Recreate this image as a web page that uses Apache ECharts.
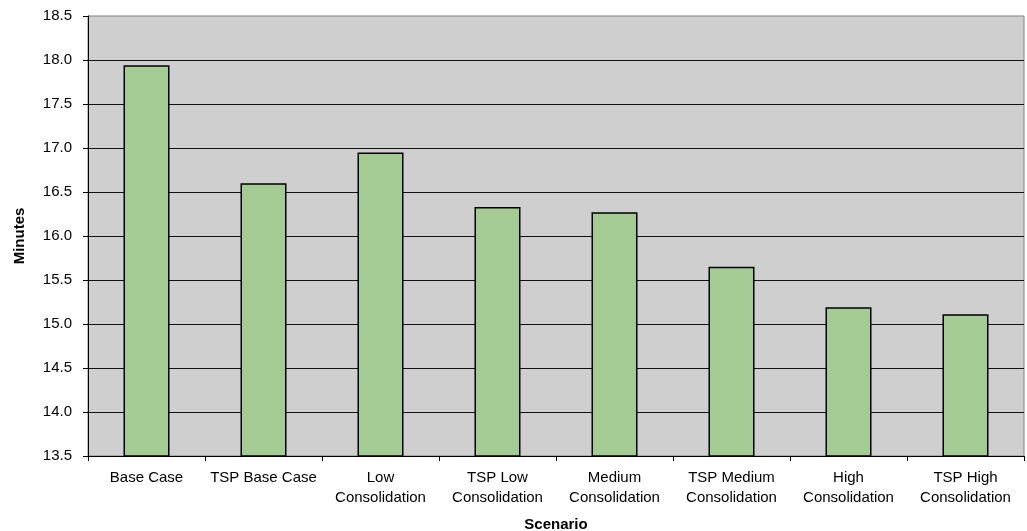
<!DOCTYPE html>
<html>
<head>
<meta charset="utf-8">
<script src="https://cdn.jsdelivr.net/npm/echarts@6/dist/echarts.min.js"></script>
<style>
  html, body { margin: 0; padding: 0; background: #ffffff; }
  #chart { width: 1027px; height: 531px; }
</style>
</head>
<body>
<div id="chart"></div>
<script>
// Average travel time per scenario (minutes)
const scenarios = [
  'Base Case',
  'TSP Base Case',
  'Low\nConsolidation',
  'TSP Low\nConsolidation',
  'Medium\nConsolidation',
  'TSP Medium\nConsolidation',
  'High\nConsolidation',
  'TSP High\nConsolidation'
];
const minutes = [17.94, 16.60, 16.95, 16.33, 16.27, 15.65, 15.19, 15.11];

const axisMin = 13.5;
const axisMax = 18.5;
const axisStep = 0.5;

const font = 'Arial, "Liberation Sans", sans-serif';

const chart = echarts.init(document.getElementById('chart'), null, { renderer: 'canvas' });

chart.setOption({
  animation: false,
  backgroundColor: '#ffffff',
  grid: {
    left: 88,
    right: 3,
    top: 16,
    bottom: 75,
    containLabel: false,
    outerBoundsMode: 'none',
    show: true,
    backgroundColor: '#cfcfcf',
    borderColor: '#808080',
    borderWidth: 1
  },
  xAxis: {
    type: 'category',
    data: scenarios,
    name: 'Scenario',
    nameLocation: 'middle',
    nameGap: 61,
    nameTextStyle: { fontFamily: font, fontSize: 15, fontWeight: 'bold', color: '#000' },
    axisLine: { show: true, lineStyle: { color: '#000', width: 1 } },
    axisTick: { show: true, length: 5, alignWithLabel: false, lineStyle: { color: '#000' } },
    axisLabel: {
      interval: 0,
      margin: 12,
      fontFamily: font,
      fontSize: 15,
      lineHeight: 20,
      color: '#000'
    },
    splitLine: { show: false }
  },
  yAxis: {
    type: 'value',
    min: axisMin,
    max: axisMax,
    interval: axisStep,
    name: 'Minutes',
    nameLocation: 'middle',
    nameGap: 61,
    nameRotate: 90,
    nameTextStyle: { fontFamily: font, fontSize: 15, fontWeight: 'bold', color: '#000' },
    axisLine: { show: true, lineStyle: { color: '#000', width: 1 } },
    axisTick: { show: true, length: 5, lineStyle: { color: '#000' } },
    axisLabel: {
      margin: 16,
      fontFamily: font,
      fontSize: 15,
      color: '#000',
      formatter: v => v.toFixed(1)
    },
    splitLine: {
      show: true,
      showMinLine: false,
      showMaxLine: false,
      lineStyle: { color: '#111', width: 1 }
    }
  },
  series: [{
    type: 'bar',
    data: minutes,
    barWidth: 46,
    itemStyle: {
      color: '#a3cb93',
      borderColor: '#000',
      borderWidth: 1.5
    }
  }]
});
</script>
</body>
</html>
